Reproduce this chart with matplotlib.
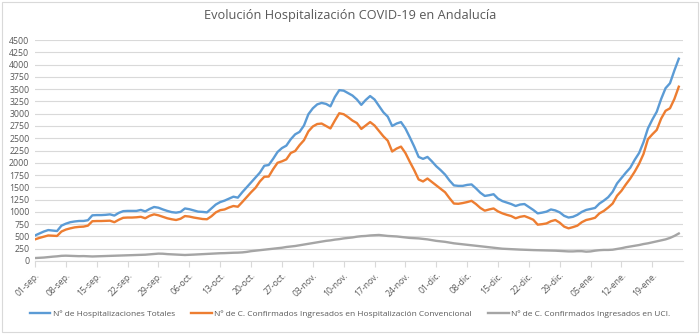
import numpy as np
import matplotlib
matplotlib.use("Agg")
import matplotlib.pyplot as plt
from matplotlib.patches import Rectangle

plt.rcParams['font.family'] = ['Open Sans', 'DejaVu Sans']

# daily values, 01-sep. to 25-ene.
totales = [
    520, 560, 600, 630, 620, 610, 720, 760, 790, 805,
    815, 815, 830, 930, 935, 935, 940, 950, 925, 980,
    1015, 1020, 1020, 1020, 1040, 1010, 1060, 1100, 1085, 1050,
    1020, 995, 985, 1000, 1070, 1055, 1030, 1005, 1000, 990,
    1070, 1150, 1200, 1230, 1270, 1310, 1290, 1400, 1500, 1600,
    1700, 1800, 1940, 1955, 2080, 2220, 2300, 2350, 2480, 2580,
    2630, 2760, 2990, 3110, 3190, 3220, 3200, 3150, 3340, 3480,
    3470, 3420, 3370, 3290, 3180, 3280, 3360, 3290, 3160, 3030,
    2940, 2750, 2800, 2830, 2700, 2520, 2330, 2120, 2080, 2120,
    2030, 1930, 1850, 1760, 1640, 1540, 1530, 1530, 1550, 1560,
    1480, 1390, 1325, 1340, 1360, 1270, 1220, 1190, 1160, 1120,
    1150, 1160, 1100, 1040, 970, 985, 1005, 1050, 1030, 990,
    920, 885, 900, 940, 1000, 1040, 1060, 1080, 1170, 1230,
    1300, 1410, 1580, 1690, 1800, 1900, 2060, 2200, 2420, 2700,
    2880, 3040, 3300, 3520, 3620, 3880, 4120,
]
convencional = [
    440, 470, 495, 520, 515, 510, 600, 640, 665, 685,
    695, 700, 720, 810, 814, 814, 818, 821, 790, 840,
    880, 885, 885, 890, 900, 870, 920, 950, 930, 900,
    870, 850, 835, 860, 915, 905, 885, 870, 855, 850,
    910, 990, 1035, 1050, 1090, 1120, 1105, 1200, 1300, 1400,
    1490, 1620, 1716, 1720, 1870, 2000, 2030, 2070, 2200, 2240,
    2360, 2460, 2640, 2740, 2790, 2800, 2750, 2700, 2860, 3010,
    2990, 2930, 2860, 2810, 2690, 2760, 2830, 2760, 2650, 2540,
    2450, 2230, 2290, 2330, 2200, 2020, 1850, 1660, 1620, 1680,
    1610, 1540, 1470, 1400, 1280, 1170, 1165, 1180, 1200, 1225,
    1160, 1080, 1025, 1050, 1070, 1010, 970, 940, 915, 870,
    900, 915, 880, 840, 740, 750, 765, 810, 835, 780,
    700, 665, 690, 720, 790, 835, 855, 880, 970, 1020,
    1090, 1170, 1330, 1430, 1560, 1680, 1820, 1980, 2180, 2480,
    2580, 2670, 2900, 3060, 3110, 3300, 3550,
]
uci = [
    60, 65, 70, 80, 88, 95, 105, 108, 105, 100,
    98, 100, 95, 92, 95, 100, 103, 105, 108, 112,
    115, 118, 120, 122, 125, 128, 135, 140, 150, 148,
    140, 135, 130, 125, 122, 125, 130, 135, 140, 145,
    150, 155, 158, 160, 165, 168, 170, 175, 185, 200,
    210, 220, 230, 240, 250, 260, 270, 285, 295, 305,
    320, 335, 350, 365, 380, 395, 410, 420, 435, 445,
    460, 470, 480, 495, 505, 510, 520, 525, 530, 520,
    510, 505, 500, 490, 480, 470, 465, 460, 450, 440,
    425, 410, 400, 390, 375, 360, 350, 340, 330, 320,
    310, 300, 290, 280, 270, 260, 250, 245, 240, 235,
    232, 228, 225, 222, 220, 218, 215, 212, 210, 205,
    200, 195, 195, 200, 200, 190, 195, 210, 220, 225,
    225, 230, 245, 260, 280, 295, 310, 325, 345, 360,
    380, 400, 420, 440, 470, 510, 560,
]
fechas = ["01-sep.", "08-sep.", "15-sep.", "22-sep.", "29-sep.", "06-oct.",
          "13-oct.", "20-oct.", "27-oct.", "03-nov.", "10-nov.", "17-nov.",
          "24-nov.", "01-dic.", "08-dic.", "15-dic.", "22-dic.", "29-dic.",
          "05-ene.", "12-ene.", "19-ene."]
series = ["Nº de Hospitalizaciones Totales",
          "Nº de C. Confirmados Ingresados en Hospitalización Convencional",
          "Nº de C. Confirmados Ingresados en UCI."]

fig = plt.figure(figsize=(7, 3.34), dpi=100)
ax = fig.add_axes([0.05, 0.2186, 0.926, 0.6614])

x = np.arange(len(totales))
ax.plot(x, totales, color="#5B9BD5", lw=1.7, label=series[0])
ax.plot(x, convencional, color="#ED7D31", lw=1.7, label=series[1])
ax.plot(x, uci, color="#A5A5A5", lw=1.7, label=series[2])

ax.set_ylim(0, 4500)
ax.set_yticks(np.arange(0, 4501, 250))
ax.set_xlim(0, len(totales))
ax.set_xticks(np.arange(0, len(fechas) * 7, 7))
ax.set_xticklabels(fechas, rotation=45, ha="right", va="top",
                   rotation_mode="anchor")
ax.tick_params(axis="x", length=4, color="#d9d9d9", labelsize=6.2,
               labelcolor="#595959", pad=3)
ax.tick_params(axis="y", length=0, labelsize=6.3, labelcolor="#595959", pad=4)
ax.grid(axis="y", color="#d9d9d9", lw=0.8)
ax.set_axisbelow(True)
for s in ["top", "right", "left"]:
    ax.spines[s].set_visible(False)
ax.spines["bottom"].set_color("#d9d9d9")

fig.suptitle("Evolución Hospitalización COVID-19 en Andalucía", y=0.972,
             fontsize=9.2, color="#595959")
fig.legend(loc="center", bbox_to_anchor=(0.5, 0.06), ncol=3, frameon=False,
           fontsize=6, handlelength=2.5, handletextpad=0.3, columnspacing=1.9,
           labelcolor="#595959")

fig.add_artist(Rectangle((0.003, 0.006), 0.994, 0.988, transform=fig.transFigure,
                         fill=False, edgecolor="#d9d9d9", lw=0.8))

fig.savefig("out.png", dpi=100)
